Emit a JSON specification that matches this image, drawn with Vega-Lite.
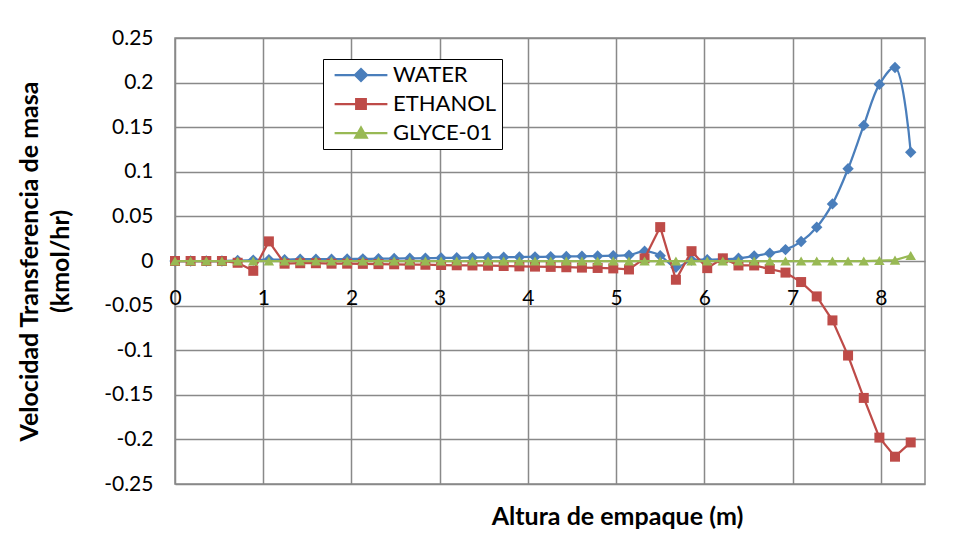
{
  "$schema": "https://vega.github.io/schema/vega-lite/v6.json",
  "width": 750,
  "height": 446,
  "autosize": {"type": "none"},
  "padding": {"left": 175, "top": 38, "right": 33, "bottom": 60},
  "background": "white",
  "config": {
    "font": "Lato",
    "view": {"stroke": "#898989", "strokeWidth": 1.5},
    "axis": {
      "gridColor": "#898989",
      "gridWidth": 1.5,
      "gridOpacity": 1,
      "domain": false,
      "ticks": false,
      "labelFont": "Lato",
      "labelFontSize": 21,
      "labelColor": "black",
      "titleFont": "Lato",
      "titleFontSize": 25,
      "titleFontWeight": "bold",
      "titleColor": "black"
    },
    "legend": {
      "labelFont": "Lato",
      "labelFontSize": 22,
      "labelColor": "black",
      "orient": "none",
      "legendX": 148,
      "legendY": 21,
      "padding": 5,
      "strokeColor": "black",
      "fillColor": "white",
      "symbolOffset": 22,
      "labelOffset": 21,
      "rowPadding": 7,
      "symbolSize": 144,
      "symbolOpacity": 1,
      "symbolStrokeWidth": 2.25
    }
  },
  "data": {
    "values": [
      {"altura": 0.000, "serie": "WATER", "velocidad": 0.0},
      {"altura": 0.177, "serie": "WATER", "velocidad": 0.0},
      {"altura": 0.355, "serie": "WATER", "velocidad": 0.0},
      {"altura": 0.532, "serie": "WATER", "velocidad": 0.0},
      {"altura": 0.710, "serie": "WATER", "velocidad": 0.0005},
      {"altura": 0.887, "serie": "WATER", "velocidad": 0.001},
      {"altura": 1.064, "serie": "WATER", "velocidad": 0.0015},
      {"altura": 1.242, "serie": "WATER", "velocidad": 0.0015},
      {"altura": 1.419, "serie": "WATER", "velocidad": 0.002},
      {"altura": 1.597, "serie": "WATER", "velocidad": 0.002},
      {"altura": 1.774, "serie": "WATER", "velocidad": 0.002},
      {"altura": 1.951, "serie": "WATER", "velocidad": 0.0022},
      {"altura": 2.129, "serie": "WATER", "velocidad": 0.0024},
      {"altura": 2.306, "serie": "WATER", "velocidad": 0.0026},
      {"altura": 2.484, "serie": "WATER", "velocidad": 0.0028},
      {"altura": 2.661, "serie": "WATER", "velocidad": 0.003},
      {"altura": 2.838, "serie": "WATER", "velocidad": 0.0032},
      {"altura": 3.016, "serie": "WATER", "velocidad": 0.0034},
      {"altura": 3.193, "serie": "WATER", "velocidad": 0.0036},
      {"altura": 3.371, "serie": "WATER", "velocidad": 0.0038},
      {"altura": 3.548, "serie": "WATER", "velocidad": 0.004},
      {"altura": 3.725, "serie": "WATER", "velocidad": 0.0042},
      {"altura": 3.903, "serie": "WATER", "velocidad": 0.0044},
      {"altura": 4.080, "serie": "WATER", "velocidad": 0.0046},
      {"altura": 4.258, "serie": "WATER", "velocidad": 0.0048},
      {"altura": 4.435, "serie": "WATER", "velocidad": 0.005},
      {"altura": 4.612, "serie": "WATER", "velocidad": 0.0053},
      {"altura": 4.790, "serie": "WATER", "velocidad": 0.0056},
      {"altura": 4.967, "serie": "WATER", "velocidad": 0.006},
      {"altura": 5.145, "serie": "WATER", "velocidad": 0.0065},
      {"altura": 5.322, "serie": "WATER", "velocidad": 0.011},
      {"altura": 5.499, "serie": "WATER", "velocidad": 0.006},
      {"altura": 5.677, "serie": "WATER", "velocidad": -0.007},
      {"altura": 5.854, "serie": "WATER", "velocidad": 0.001},
      {"altura": 6.032, "serie": "WATER", "velocidad": 0.0015},
      {"altura": 6.209, "serie": "WATER", "velocidad": 0.002},
      {"altura": 6.386, "serie": "WATER", "velocidad": 0.003},
      {"altura": 6.564, "serie": "WATER", "velocidad": 0.0056},
      {"altura": 6.741, "serie": "WATER", "velocidad": 0.0087},
      {"altura": 6.919, "serie": "WATER", "velocidad": 0.0128},
      {"altura": 7.096, "serie": "WATER", "velocidad": 0.0218},
      {"altura": 7.273, "serie": "WATER", "velocidad": 0.0379},
      {"altura": 7.451, "serie": "WATER", "velocidad": 0.064},
      {"altura": 7.628, "serie": "WATER", "velocidad": 0.1034},
      {"altura": 7.806, "serie": "WATER", "velocidad": 0.152},
      {"altura": 7.983, "serie": "WATER", "velocidad": 0.198},
      {"altura": 8.160, "serie": "WATER", "velocidad": 0.217},
      {"altura": 8.338, "serie": "WATER", "velocidad": 0.122},

      {"altura": 0.000, "serie": "ETHANOL", "velocidad": 0.0},
      {"altura": 0.177, "serie": "ETHANOL", "velocidad": 0.0},
      {"altura": 0.355, "serie": "ETHANOL", "velocidad": 0.0},
      {"altura": 0.532, "serie": "ETHANOL", "velocidad": 0.0},
      {"altura": 0.710, "serie": "ETHANOL", "velocidad": -0.002},
      {"altura": 0.887, "serie": "ETHANOL", "velocidad": -0.011},
      {"altura": 1.064, "serie": "ETHANOL", "velocidad": 0.022},
      {"altura": 1.242, "serie": "ETHANOL", "velocidad": -0.003},
      {"altura": 1.419, "serie": "ETHANOL", "velocidad": -0.0025},
      {"altura": 1.597, "serie": "ETHANOL", "velocidad": -0.0025},
      {"altura": 1.774, "serie": "ETHANOL", "velocidad": -0.003},
      {"altura": 1.951, "serie": "ETHANOL", "velocidad": -0.003},
      {"altura": 2.129, "serie": "ETHANOL", "velocidad": -0.0032},
      {"altura": 2.306, "serie": "ETHANOL", "velocidad": -0.0035},
      {"altura": 2.484, "serie": "ETHANOL", "velocidad": -0.0037},
      {"altura": 2.661, "serie": "ETHANOL", "velocidad": -0.004},
      {"altura": 2.838, "serie": "ETHANOL", "velocidad": -0.0042},
      {"altura": 3.016, "serie": "ETHANOL", "velocidad": -0.0045},
      {"altura": 3.193, "serie": "ETHANOL", "velocidad": -0.0048},
      {"altura": 3.371, "serie": "ETHANOL", "velocidad": -0.005},
      {"altura": 3.548, "serie": "ETHANOL", "velocidad": -0.0053},
      {"altura": 3.725, "serie": "ETHANOL", "velocidad": -0.0056},
      {"altura": 3.903, "serie": "ETHANOL", "velocidad": -0.006},
      {"altura": 4.080, "serie": "ETHANOL", "velocidad": -0.0063},
      {"altura": 4.258, "serie": "ETHANOL", "velocidad": -0.0066},
      {"altura": 4.435, "serie": "ETHANOL", "velocidad": -0.007},
      {"altura": 4.612, "serie": "ETHANOL", "velocidad": -0.0074},
      {"altura": 4.790, "serie": "ETHANOL", "velocidad": -0.0078},
      {"altura": 4.967, "serie": "ETHANOL", "velocidad": -0.0083},
      {"altura": 5.145, "serie": "ETHANOL", "velocidad": -0.0095},
      {"altura": 5.322, "serie": "ETHANOL", "velocidad": 0.003},
      {"altura": 5.499, "serie": "ETHANOL", "velocidad": 0.038},
      {"altura": 5.677, "serie": "ETHANOL", "velocidad": -0.021},
      {"altura": 5.854, "serie": "ETHANOL", "velocidad": 0.011},
      {"altura": 6.032, "serie": "ETHANOL", "velocidad": -0.008},
      {"altura": 6.209, "serie": "ETHANOL", "velocidad": 0.003},
      {"altura": 6.386, "serie": "ETHANOL", "velocidad": -0.005},
      {"altura": 6.564, "serie": "ETHANOL", "velocidad": -0.005},
      {"altura": 6.741, "serie": "ETHANOL", "velocidad": -0.009},
      {"altura": 6.919, "serie": "ETHANOL", "velocidad": -0.013},
      {"altura": 7.096, "serie": "ETHANOL", "velocidad": -0.0236},
      {"altura": 7.273, "serie": "ETHANOL", "velocidad": -0.0397},
      {"altura": 7.451, "serie": "ETHANOL", "velocidad": -0.0666},
      {"altura": 7.628, "serie": "ETHANOL", "velocidad": -0.106},
      {"altura": 7.806, "serie": "ETHANOL", "velocidad": -0.1535},
      {"altura": 7.983, "serie": "ETHANOL", "velocidad": -0.198},
      {"altura": 8.160, "serie": "ETHANOL", "velocidad": -0.2194},
      {"altura": 8.338, "serie": "ETHANOL", "velocidad": -0.2034},

      {"altura": 0.000, "serie": "GLYCE-01", "velocidad": 0.0},
      {"altura": 0.177, "serie": "GLYCE-01", "velocidad": 0.0},
      {"altura": 0.355, "serie": "GLYCE-01", "velocidad": 0.0},
      {"altura": 0.532, "serie": "GLYCE-01", "velocidad": 0.0},
      {"altura": 0.710, "serie": "GLYCE-01", "velocidad": 0.0},
      {"altura": 0.887, "serie": "GLYCE-01", "velocidad": 0.0},
      {"altura": 1.064, "serie": "GLYCE-01", "velocidad": 0.0},
      {"altura": 1.242, "serie": "GLYCE-01", "velocidad": 0.0},
      {"altura": 1.419, "serie": "GLYCE-01", "velocidad": 0.0},
      {"altura": 1.597, "serie": "GLYCE-01", "velocidad": 0.0},
      {"altura": 1.774, "serie": "GLYCE-01", "velocidad": 0.0},
      {"altura": 1.951, "serie": "GLYCE-01", "velocidad": 0.0},
      {"altura": 2.129, "serie": "GLYCE-01", "velocidad": 0.0},
      {"altura": 2.306, "serie": "GLYCE-01", "velocidad": 0.0},
      {"altura": 2.484, "serie": "GLYCE-01", "velocidad": 0.0},
      {"altura": 2.661, "serie": "GLYCE-01", "velocidad": 0.0},
      {"altura": 2.838, "serie": "GLYCE-01", "velocidad": 0.0},
      {"altura": 3.016, "serie": "GLYCE-01", "velocidad": 0.0},
      {"altura": 3.193, "serie": "GLYCE-01", "velocidad": 0.0},
      {"altura": 3.371, "serie": "GLYCE-01", "velocidad": 0.0},
      {"altura": 3.548, "serie": "GLYCE-01", "velocidad": 0.0},
      {"altura": 3.725, "serie": "GLYCE-01", "velocidad": 0.0},
      {"altura": 3.903, "serie": "GLYCE-01", "velocidad": 0.0},
      {"altura": 4.080, "serie": "GLYCE-01", "velocidad": 0.0},
      {"altura": 4.258, "serie": "GLYCE-01", "velocidad": 0.0},
      {"altura": 4.435, "serie": "GLYCE-01", "velocidad": 0.0},
      {"altura": 4.612, "serie": "GLYCE-01", "velocidad": 0.0},
      {"altura": 4.790, "serie": "GLYCE-01", "velocidad": 0.0},
      {"altura": 4.967, "serie": "GLYCE-01", "velocidad": 0.0},
      {"altura": 5.145, "serie": "GLYCE-01", "velocidad": 0.0},
      {"altura": 5.322, "serie": "GLYCE-01", "velocidad": 0.0},
      {"altura": 5.499, "serie": "GLYCE-01", "velocidad": 0.0},
      {"altura": 5.677, "serie": "GLYCE-01", "velocidad": 0.0},
      {"altura": 5.854, "serie": "GLYCE-01", "velocidad": 0.0},
      {"altura": 6.032, "serie": "GLYCE-01", "velocidad": 0.0},
      {"altura": 6.209, "serie": "GLYCE-01", "velocidad": 0.0},
      {"altura": 6.386, "serie": "GLYCE-01", "velocidad": 0.0},
      {"altura": 6.564, "serie": "GLYCE-01", "velocidad": 0.0},
      {"altura": 6.741, "serie": "GLYCE-01", "velocidad": 0.0},
      {"altura": 6.919, "serie": "GLYCE-01", "velocidad": 0.0},
      {"altura": 7.096, "serie": "GLYCE-01", "velocidad": 0.0},
      {"altura": 7.273, "serie": "GLYCE-01", "velocidad": 0.0},
      {"altura": 7.451, "serie": "GLYCE-01", "velocidad": 0.0},
      {"altura": 7.628, "serie": "GLYCE-01", "velocidad": 0.0},
      {"altura": 7.806, "serie": "GLYCE-01", "velocidad": 0.0},
      {"altura": 7.983, "serie": "GLYCE-01", "velocidad": 0.0005},
      {"altura": 8.160, "serie": "GLYCE-01", "velocidad": 0.001},
      {"altura": 8.338, "serie": "GLYCE-01", "velocidad": 0.0062}
    ]
  },
  "encoding": {
    "x": {
      "field": "altura",
      "type": "quantitative",
      "scale": {"domain": [0, 8.5], "nice": false, "zero": false},
      "axis": {
        "title": "Altura de empaque (m)",
        "values": [0, 1, 2, 3, 4, 5, 6, 7, 8],
        "labelExpr": "'' + datum.value",
        "offset": -223,
        "labelPadding": 26,
        "labelFlush": false,
        "titleAnchor": "start",
        "titleAlign": "center",
        "titleBaseline": "middle",
        "titleX": 442,
        "titleY": 255
      }
    },
    "y": {
      "field": "velocidad",
      "type": "quantitative",
      "scale": {"domain": [-0.25, 0.25], "nice": false, "zero": false},
      "axis": {
        "title": ["Velocidad Transferencia de masa", "(kmol/hr)"],
        "values": [-0.25, -0.2, -0.15, -0.1, -0.05, 0, 0.05, 0.1, 0.15, 0.2, 0.25],
        "labelExpr": "'' + datum.value",
        "labelPadding": 22,
        "labelFlush": false,
        "titlePadding": 30,
        "titleLineHeight": 31
      }
    }
  },
  "layer": [
    {
      "transform": [{"filter": "datum.serie === 'WATER'"}],
      "mark": {"type": "line", "interpolate": "catmull-rom", "strokeWidth": 2.25, "color": "#4A7EBB"}
    },
    {
      "transform": [{"filter": "datum.serie === 'WATER'"}],
      "mark": {"type": "point", "filled": true, "shape": "diamond", "size": 130, "opacity": 1, "color": "#4A7EBB"}
    },
    {
      "transform": [{"filter": "datum.serie === 'ETHANOL'"}],
      "mark": {"type": "line", "strokeWidth": 2.25, "color": "#BE4B48"}
    },
    {
      "transform": [{"filter": "datum.serie === 'ETHANOL'"}],
      "mark": {"type": "point", "filled": true, "shape": "square", "size": 100, "opacity": 1, "color": "#BE4B48"}
    },
    {
      "transform": [{"filter": "datum.serie === 'GLYCE-01'"}],
      "mark": {"type": "line", "strokeWidth": 2.25, "color": "#98B954"}
    },
    {
      "transform": [{"filter": "datum.serie === 'GLYCE-01'"}],
      "mark": {"type": "point", "filled": true, "shape": "triangle-up", "size": 110, "opacity": 1, "color": "#98B954"}
    },
    {
      "mark": {"type": "point", "filled": true, "opacity": 0, "size": 144},
      "encoding": {
        "shape": {
          "field": "serie",
          "type": "nominal",
          "title": null,
          "scale": {
            "domain": ["WATER", "ETHANOL", "GLYCE-01"],
            "range": [
              "M-4.4,0H4.4M0,-1L1,0L0,1L-1,0Z",
              "M-4.4,0H4.4M-0.8,-0.8H0.8V0.8H-0.8Z",
              "M-4.4,0H4.4M0,-0.9L0.95,0.75H-0.95Z"
            ]
          }
        },
        "color": {
          "field": "serie",
          "type": "nominal",
          "title": null,
          "scale": {
            "domain": ["WATER", "ETHANOL", "GLYCE-01"],
            "range": ["#4A7EBB", "#BE4B48", "#98B954"]
          }
        },
        "stroke": {
          "field": "serie",
          "type": "nominal",
          "title": null,
          "scale": {
            "domain": ["WATER", "ETHANOL", "GLYCE-01"],
            "range": ["#4A7EBB", "#BE4B48", "#98B954"]
          }
        }
      }
    }
  ]
}
